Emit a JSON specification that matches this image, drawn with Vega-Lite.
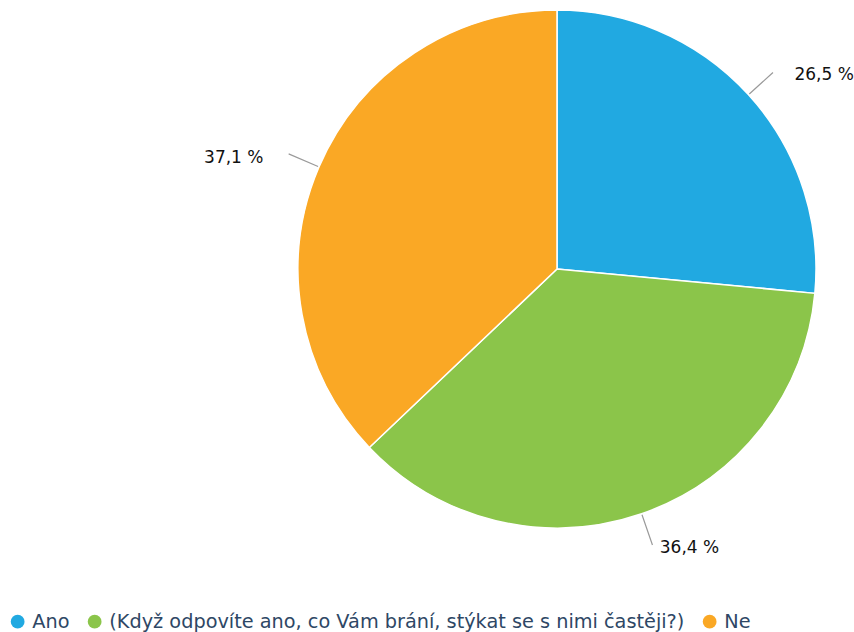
{
  "$schema": "https://vega.github.io/schema/vega-lite/v6.json",
  "width": 594,
  "height": 518,
  "padding": {"left": 260, "top": 10, "right": 0, "bottom": 104},
  "autosize": "none",
  "background": "white",
  "config": {"view": {"stroke": null}, "font": "DejaVu Sans"},
  "datasets": {
    "slices": [
      {"k": "Ano", "value": 26.5, "label": "26,5 %", "o": 1},
      {"k": "(Když odpovíte ano, co Vám brání, stýkat se s nimi častěji?)", "value": 36.4, "label": "36,4 %", "o": 2},
      {"k": "Ne", "value": 37.1, "label": "37,1 %", "o": 3}
    ],
    "connectors": [{"mid": 13.25}, {"mid": 44.7}, {"mid": 81.45}]
  },
  "layer": [
    {
      "data": {"name": "slices"},
      "mark": {"type": "arc", "radius": 259, "stroke": "white", "strokeWidth": 1.5},
      "encoding": {
        "theta": {"field": "value", "type": "quantitative", "stack": true, "scale": {"domain": [0, 100]}},
        "order": {"field": "o"},
        "color": {
          "field": "k", "type": "nominal",
          "scale": {
            "domain": ["Ano", "(Když odpovíte ano, co Vám brání, stýkat se s nimi častěji?)", "Ne"],
            "range": ["#21A9E1", "#8BC54A", "#FAA825"]
          },
          "legend": {
            "orient": "none", "legendX": -252, "legendY": 602,
            "direction": "horizontal", "columns": 3, "title": null,
            "symbolType": "circle", "symbolSize": 190, "symbolStrokeWidth": 0, "symbolOpacity": 1,
            "labelFontSize": 19.3, "labelColor": "#2e4765", "labelLimit": 1000,
            "labelOffset": 5, "columnPadding": 15
          }
        }
      }
    },
    {
      "data": {"name": "connectors"},
      "mark": {"type": "arc", "radius": 260, "radius2": 292, "filled": false, "stroke": "#9a9a9a", "strokeWidth": 1.2},
      "encoding": {
        "theta": {"field": "mid", "type": "quantitative"},
        "theta2": {"field": "mid"}
      }
    },
    {
      "data": {"name": "slices"},
      "mark": {"type": "text", "radius": 290, "align": "left", "baseline": "middle", "dx": 23, "dy": 1, "fontSize": 17, "color": "#111"},
      "encoding": {
        "theta": {"field": "value", "type": "quantitative", "stack": true},
        "order": {"field": "o"},
        "text": {"condition": {"test": "datum.k === 'Ano'", "field": "label"}, "value": ""}
      }
    },
    {
      "data": {"name": "slices"},
      "mark": {"type": "text", "radius": 290, "align": "left", "baseline": "middle", "dx": 8, "dy": 5, "fontSize": 17, "color": "#111"},
      "encoding": {
        "theta": {"field": "value", "type": "quantitative", "stack": true},
        "order": {"field": "o"},
        "text": {"condition": {"test": "datum.o === 2", "field": "label"}, "value": ""}
      }
    },
    {
      "data": {"name": "slices"},
      "mark": {"type": "text", "radius": 290, "align": "right", "baseline": "middle", "dx": -27, "dy": 3, "fontSize": 17, "color": "#111"},
      "encoding": {
        "theta": {"field": "value", "type": "quantitative", "stack": true},
        "order": {"field": "o"},
        "text": {"condition": {"test": "datum.k === 'Ne'", "field": "label"}, "value": ""}
      }
    }
  ]
}
